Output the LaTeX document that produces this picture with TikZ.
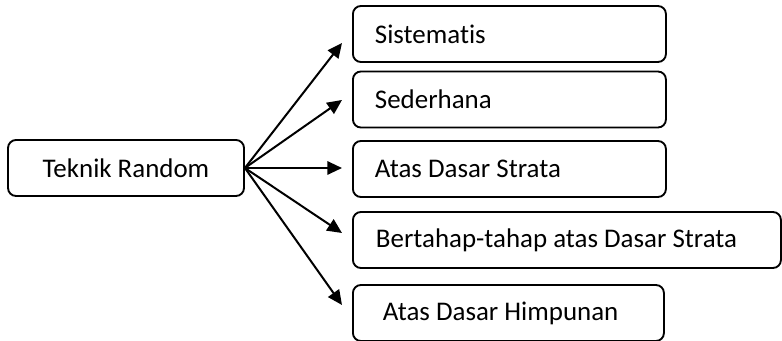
\documentclass[tikz,border=0pt]{standalone}
\usepackage{fontspec}
\setmainfont{Carlito}[Ligatures={NoCommon}]
\usetikzlibrary{arrows.meta}
\begin{document}
\begin{tikzpicture}[x=0.75pt,y=-0.75pt,
  box/.style={draw, line width=1.4pt, rounded corners=6pt, minimum height=42pt,
    inner ysep=0pt, font=\fontsize{20.2}{24}\selectfont},
  rbox/.style={box, anchor=west, align=flush left},
  link/.style={line width=1.5pt, -{Triangle[length=11pt,width=10pt]}}]
\useasboundingbox (0,0) rectangle (782,341);
% source box
\node[box, minimum width=177pt, inner xsep=0pt] (src) at (126,168) {Teknik Random};
% target boxes
\node[rbox, text width=201.75pt, inner xsep=16.5pt] (b1) at (352,34)    {Sistematis};
\node[rbox, text width=201.75pt, inner xsep=16.5pt] (b2) at (352,99.5)  {Sederhana};
\node[rbox, text width=201.75pt, inner xsep=16.5pt] (b3) at (352,169)   {Atas Dasar Strata};
\node[rbox, text width=286.5pt,  inner xsep=17.25pt] (b4) at (352,240)  {Bertahap-tahap atas Dasar Strata};
\node[rbox, text width=188.25pt, inner xsep=22.5pt] (b5) at (352,313)   {Atas Dasar Himpunan};
% arrow tips
\coordinate (t1) at (342,43);
\coordinate (t2) at (342,100);
\coordinate (t3) at (342,168);
\coordinate (t4) at (342,233);
\coordinate (t5) at (342,305);
\foreach \t in {t1,t2,t3,t4,t5}
  \draw[link] (src.east) -- (\t);
\end{tikzpicture}
\end{document}
